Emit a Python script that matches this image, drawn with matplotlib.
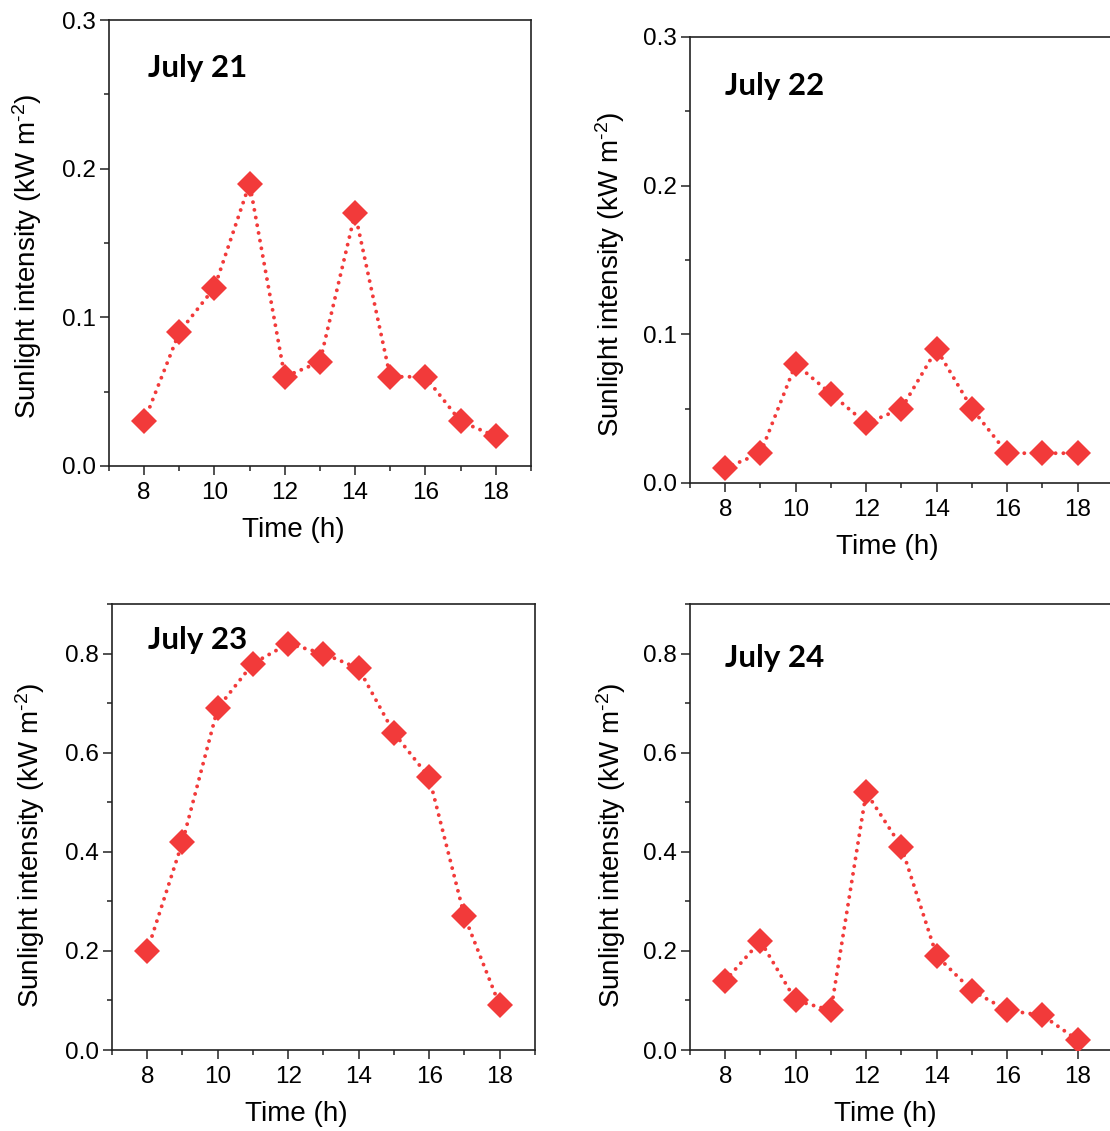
import matplotlib
matplotlib.use("Agg")
import matplotlib.pyplot as plt
from matplotlib.ticker import MultipleLocator

# ---- data ----
hours = [8, 9, 10, 11, 12, 13, 14, 15, 16, 17, 18]

july21 = [0.03, 0.09, 0.12, 0.19, 0.06, 0.07, 0.17, 0.06, 0.06, 0.03, 0.02]
july22 = [0.01, 0.02, 0.08, 0.06, 0.04, 0.05, 0.09, 0.05, 0.02, 0.02, 0.02]
july23 = [0.20, 0.42, 0.69, 0.78, 0.82, 0.80, 0.77, 0.64, 0.55, 0.27, 0.09]
july24 = [0.14, 0.22, 0.10, 0.08, 0.52, 0.41, 0.19, 0.12, 0.08, 0.07, 0.02]

titles = ['July 21', 'July 22', 'July 23', 'July 24']
series = [july21, july22, july23, july24]
ymax = [0.3, 0.3, 0.9, 0.9]

plt.rcParams['font.family'] = ['Liberation Sans', 'DejaVu Sans']
plt.rcParams['mathtext.fontset'] = 'custom'
plt.rcParams['mathtext.rm'] = 'Liberation Sans'
plt.rcParams['mathtext.it'] = 'Liberation Sans:italic'
plt.rcParams['mathtext.default'] = 'regular'

red = '#F23A3A'

fig = plt.figure(figsize=(11.1, 11.31), dpi=100)

# axes boxes in figure fractions (left, bottom, width, height)
boxes = [
    [0.0982, 0.5880, 0.3800, 0.3943],
    [0.6216, 0.5730, 0.3810, 0.3943],
    [0.1009, 0.0716, 0.3810, 0.3943],
    [0.6216, 0.0716, 0.3810, 0.3943],
]
title_pos = [(0.092, 0.872), (0.083, 0.870), (0.085, 0.900), (0.083, 0.859)]
xlab_x = [0.438, 0.466, 0.435, 0.461]
ylab = [(-0.155, 0.471), (-0.150, 0.469), (-0.154, 0.46), (-0.147, 0.46)]

for i in range(4):
    ax = fig.add_axes(boxes[i])
    ax.plot(hours, series[i], linestyle=(0, (0.01, 2.0)), dash_capstyle='round',
            lw=2.8, color=red, marker='D', markersize=13.5,
            markerfacecolor=red, markeredgewidth=0, zorder=3)

    ax.set_xlim(7, 19)
    ax.set_ylim(0, ymax[i])
    ax.xaxis.set_major_locator(MultipleLocator(2))
    ax.xaxis.set_minor_locator(MultipleLocator(1))
    if ymax[i] < 0.5:
        ax.yaxis.set_major_locator(MultipleLocator(0.1))
        ax.yaxis.set_minor_locator(MultipleLocator(0.05))
    else:
        ax.yaxis.set_major_locator(MultipleLocator(0.2))
        ax.yaxis.set_minor_locator(MultipleLocator(0.1))
    ax.yaxis.set_major_formatter(matplotlib.ticker.FormatStrFormatter('%.1f'))

    ax.tick_params(which='major', direction='out', length=6.5, width=1.1,
                   labelsize=17.5, color='#222222')
    ax.tick_params(which='minor', direction='out', length=3.5, width=1.1,
                   color='#222222')
    ax.tick_params(axis='x', pad=5)
    ax.tick_params(axis='y', pad=3)
    for sp in ax.spines.values():
        sp.set_linewidth(1.2)
        sp.set_color('#222222')

    ax.set_xlabel('Time (h)', fontsize=20)
    ax.xaxis.set_label_coords(xlab_x[i], -0.114)
    ax.set_ylabel(r'Sunlight intensity (kW m$^{\text{-2}}$)', fontsize=20)
    ax.yaxis.set_label_coords(ylab[i][0], ylab[i][1])

    ax.text(title_pos[i][0], title_pos[i][1], titles[i], transform=ax.transAxes,
            fontsize=22.5, fontweight='bold', family='Lato', ha='left', va='baseline')

fig.savefig('out.png', dpi=100)
